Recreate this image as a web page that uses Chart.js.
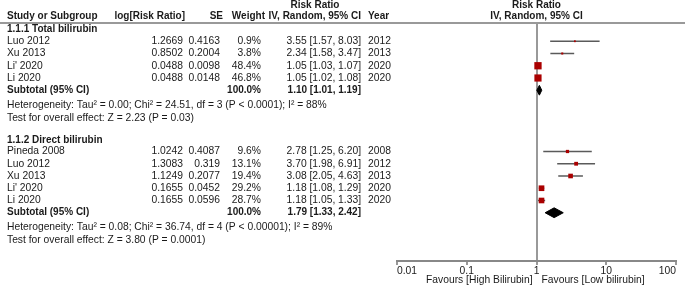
<!DOCTYPE html>
<html>
<head>
<meta charset="utf-8">
<script src="https://cdn.jsdelivr.net/npm/chart.js@4.4.1/dist/chart.umd.min.js"></script>
<style>
  body { margin: 0; background: #fff; }
  canvas { display: block; }
</style>
</head>
<body>
<canvas id="forest" width="685" height="286"></canvas>
<script>
// 1.1.1 Total bilirubin
const totStudy = ['Luo 2012', 'Xu 2013', "Li' 2020", 'Li 2020'];
const totLogRR = ['1.2669', '0.8502', '0.0488', '0.0488'];
const totSE = ['0.4163', '0.2004', '0.0098', '0.0148'];
const totWeight = [0.9, 3.8, 48.4, 46.8];
const totRR = [3.55, 2.34, 1.05, 1.05];
const totLo = [1.57, 1.58, 1.03, 1.02];
const totHi = [8.03, 3.47, 1.07, 1.08];
const totYear = ['2012', '2013', '2020', '2020'];
const totSub = [1.10, 1.01, 1.19];
const totHet = 'Heterogeneity: Tau\u00b2 = 0.00; Chi\u00b2 = 24.51, df = 3 (P < 0.0001); I\u00b2 = 88%';
const totTest = 'Test for overall effect: Z = 2.23 (P = 0.03)';

// 1.1.2 Direct bilirubin
const dirStudy = ['Pineda 2008', 'Luo 2012', 'Xu 2013', "Li' 2020", 'Li 2020'];
const dirLogRR = ['1.0242', '1.3083', '1.1249', '0.1655', '0.1655'];
const dirSE = ['0.4087', '0.319', '0.2077', '0.0452', '0.0596'];
const dirWeight = [9.6, 13.1, 19.4, 29.2, 28.7];
const dirRR = [2.78, 3.70, 3.08, 1.18, 1.18];
const dirLo = [1.25, 1.98, 2.05, 1.08, 1.05];
const dirHi = [6.20, 6.91, 4.63, 1.29, 1.33];
const dirYear = ['2008', '2012', '2013', '2020', '2020'];
const dirSub = [1.79, 1.33, 2.42];
const dirHet = 'Heterogeneity: Tau\u00b2 = 0.08; Chi\u00b2 = 36.74, df = 4 (P < 0.00001); I\u00b2 = 89%';
const dirTest = 'Test for overall effect: Z = 3.80 (P = 0.0001)';

const tickVals = [0.01, 0.1, 1, 10, 100];
const tickLabels = ['0.01', '0.1', '1', '10', '100'];
const favLeft = 'Favours [High Bilirubin]';
const favRight = 'Favours [Low bilirubin]';

const groups = [
  { title: '1.1.1 Total bilirubin', start: 0, study: totStudy, logrr: totLogRR, se: totSE, w: totWeight, rr: totRR, lo: totLo, hi: totHi, year: totYear, sub: totSub, het: totHet, test: totTest },
  { title: '1.1.2 Direct bilirubin', start: 9, study: dirStudy, logrr: dirLogRR, se: dirSE, w: dirWeight, rr: dirRR, lo: dirLo, hi: dirHi, year: dirYear, sub: dirSub, het: dirHet, test: dirTest }
];

const FONT = '"Liberation Sans", Arial, sans-serif';
const TXT = '#1a1a1a';
const fmt = v => v.toFixed(2);

const datasets = [];
groups.forEach(g => {
  g.study.forEach((s, i) => {
    const row = g.start + 1 + i;
    datasets.push({
      data: [{ x: g.lo[i], y: row }, { x: g.hi[i], y: row }],
      borderColor: '#5a5a5a', borderWidth: 1.5, pointRadius: 0, order: 2
    });
  });
  datasets.push({
    data: g.rr.map((v, i) => ({ x: v, y: g.start + 1 + i })),
    showLine: false, pointStyle: 'rect',
    pointRadius: g.w.map(w => Math.max(1.05 * Math.sqrt(w), 1.8) / Math.SQRT2),
    pointBackgroundColor: '#aa0000', pointBorderWidth: 0, order: 1
  });
  const r = g.start + g.study.length + 1;
  datasets.push({
    data: [{ x: g.sub[1], y: r }, { x: g.sub[0], y: r - 0.4 }, { x: g.sub[2], y: r }, { x: g.sub[0], y: r + 0.4 }, { x: g.sub[1], y: r }],
    borderColor: '#000', backgroundColor: '#000', borderWidth: 1, fill: 'shape', pointRadius: 0, tension: 0, order: 0
  });
});

const tablePlugin = {
  id: 'tableText',
  beforeDraw(chart) {
    const c = chart.ctx;
    c.save();
    c.strokeStyle = '#999';
    c.lineWidth = 2;
    c.beginPath();
    c.moveTo(0, chart.chartArea.top);
    c.lineTo(chart.width, chart.chartArea.top);
    c.stroke();
    c.restore();
  },
  afterDraw(chart) {
    const c = chart.ctx;
    const ys = chart.scales.y;
    const xs = chart.scales.x;
    const Y = r => ys.getPixelForValue(r);
    const put = (t, x, y, align, bold) => {
      c.font = bold ? 'bold 10px ' + FONT : '10.3px ' + FONT;
      c.textAlign = align;
      c.fillText(t, x, y);
    };
    c.save();
    c.fillStyle = TXT;
    c.textBaseline = 'middle';
    // header
    put('Risk Ratio', 315, 5, 'center', true);
    put('Study or Subgroup', 7, 16, 'left', true);
    put('log[Risk Ratio]', 185, 16, 'right', true);
    put('SE', 223, 16, 'right', true);
    put('Weight', 265, 16, 'right', true);
    put('IV, Random, 95% CI', 361, 16, 'right', true);
    put('Year', 368, 16, 'left', true);
    const x1 = xs.getPixelForValue(1);
    put('Risk Ratio', x1, 5, 'center', true);
    put('IV, Random, 95% CI', x1, 16, 'center', true);

    groups.forEach(g => {
      put(g.title, 7, Y(g.start + (g.start ? 0.1 : 0)), 'left', true);
      g.study.forEach((s, i) => {
        const y = Y(g.start + 1 + i);
        put(s, 7, y, 'left');
        put(g.logrr[i], 183, y, 'right');
        put(g.se[i], 220, y, 'right');
        put(g.w[i].toFixed(1) + '%', 261, y, 'right');
        put(fmt(g.rr[i]) + ' [' + fmt(g.lo[i]) + ', ' + fmt(g.hi[i]) + ']', 361, y, 'right');
        put(g.year[i], 368, y, 'left');
      });
      const r = g.start + g.study.length + 1;
      put('Subtotal (95% CI)', 7, Y(r), 'left', true);
      put('100.0%', 261, Y(r), 'right', true);
      put(fmt(g.sub[0]) + ' [' + fmt(g.sub[1]) + ', ' + fmt(g.sub[2]) + ']', 361, Y(r), 'right', true);
      put(g.het, 7, Y(r + 1.2), 'left');
      put(g.test, 7, Y(r + 2.25), 'left');
    });
    put(favLeft, x1 - 4, 280, 'right');
    put(favRight, x1 + 5, 280, 'left');
    c.restore();
  }
};

new Chart(document.getElementById('forest'), {
  type: 'line',
  data: { datasets: datasets },
  options: {
    responsive: false,
    animation: false,
    events: [],
    layout: { padding: { left: 397, right: 9, top: 23, bottom: 0 } },
    plugins: { legend: { display: false }, tooltip: { enabled: false } },
    scales: {
      x: {
        type: 'logarithmic',
        min: 0.01,
        max: 100,
        afterBuildTicks: s => { s.ticks = tickVals.map(v => ({ value: v })); },
        afterFit: s => { s.height = 25; },
        border: { color: '#888', width: 2 },
        grid: {
          color: ctx => (ctx.tick && ctx.tick.value === 1 ? '#999' : 'rgba(0,0,0,0)'),
          lineWidth: 2,
          tickColor: '#777',
          tickWidth: 1.5,
          tickLength: 4
        },
        ticks: {
          align: 'inner',
          padding: 0,
          maxRotation: 0,
          color: TXT,
          font: { family: FONT, size: 10.3 },
          callback: (v, i) => tickLabels[i]
        }
      },
      y: { type: 'linear', display: false, reverse: true, min: -0.49, max: 18.94 }
    }
  },
  plugins: [tablePlugin]
});
</script>
</body>
</html>
